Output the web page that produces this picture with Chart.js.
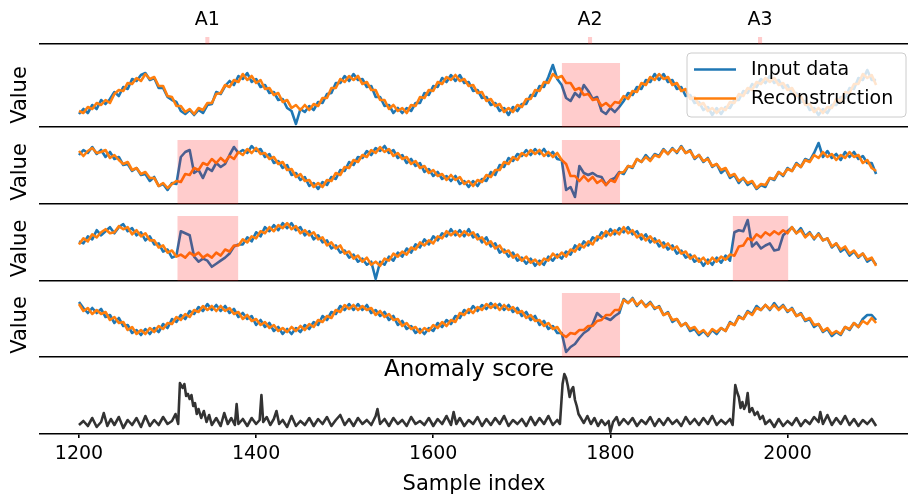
<!DOCTYPE html>
<html>
<head>
<meta charset="utf-8">
<script src="https://cdn.jsdelivr.net/npm/chart.js@4.4.0/dist/chart.umd.min.js"></script>
<style>
  html, body { margin: 0; padding: 0; background: #fff; }
  #wrap { position: relative; width: 908px; height: 497px; overflow: hidden; }
  canvas { position: absolute; left: 0; }
</style>
</head>
<body>
<div id="wrap">
  <canvas id="marks" width="908" height="46" style="top:0px"></canvas>
  <canvas id="p1" width="908" height="84" style="top:45px"></canvas>
  <canvas id="p2" width="908" height="77" style="top:129px"></canvas>
  <canvas id="p3" width="908" height="77" style="top:206px"></canvas>
  <canvas id="p4" width="908" height="76" style="top:283px"></canvas>
  <canvas id="p5" width="908" height="138" style="top:359px"></canvas>
</div>
<script>
// sample index shared by the four signal panels
const sampleIndex = [
  1200,1205,1210,1215,1220,1225,1230,1235,1240,1245,1250,1255,1260,1265,1270,1275,1280,1285,1290,1295,
  1300,1305,1310,1315,1320,1325,1330,1335,1340,1345,1350,1355,1360,1365,1370,1375,1380,1385,1390,1395,
  1400,1405,1410,1415,1420,1425,1430,1435,1440,1445,1450,1455,1460,1465,1470,1475,1480,1485,1490,1495,
  1500,1505,1510,1515,1520,1525,1530,1535,1540,1545,1550,1555,1560,1565,1570,1575,1580,1585,1590,1595,
  1600,1605,1610,1615,1620,1625,1630,1635,1640,1645,1650,1655,1660,1665,1670,1675,1680,1685,1690,1695,
  1700,1705,1710,1715,1720,1725,1730,1735,1740,1745,1750,1755,1760,1765,1770,1775,1780,1785,1790,1795,
  1800,1805,1810,1815,1820,1825,1830,1835,1840,1845,1850,1855,1860,1865,1870,1875,1880,1885,1890,1895,
  1900,1905,1910,1915,1920,1925,1930,1935,1940,1945,1950,1955,1960,1965,1970,1975,1980,1985,1990,1995,
  2000,2005,2010,2015,2020,2025,2030,2035,2040,2045,2050,2055,2060,2065,2070,2075,2080,2085,2090,2095,
  2100
];

// panel 1
const input1 = [
  -19,-14,-18,-10,-14,-5,-9,-4,3,-1,8,6,16,14,20,22,15,17,7,7,
  -2,-5,-7,-16,-19,-15,-20,-15,-18,-10,-9,3,1,9,14,10,19,16,22,13,
  16,8,10,2,3,-5,-4,-13,-16,-29,-14,-17,-11,-15,-7,-8,1,2,12,12,
  19,14,21,15,16,8,9,-2,-2,-11,-10,-18,-13,-18,-13,-16,-8,-8,2,0,
  9,8,17,13,20,14,20,12,13,4,5,-3,-2,-10,-8,-16,-13,-20,-12,-16,
  -9,-9,0,-1,9,8,18,30,16,10,-3,-6,2,-2,10,4,-4,-2,-16,-19,
  -13,-17,-12,-6,2,0,8,6,15,13,21,15,21,13,15,6,8,-1,0,-8,
  -7,-15,-12,-20,-13,-19,-12,-13,-5,-5,4,2,11,8,16,12,19,12,15,7,
  10,1,2,-7,-6,-15,-13,-20,-14,-18,-10,-10,-2,-3,7,6,17,15,25,15,
  15
];
const recon1 = [
  -16,-18,-12,-14,-8,-10,-5,-8,1,5,4,12,11,17,14,21,16,18,9,9,
  -1,-2,-11,-11,-17,-14,-19,-13,-15,-8,-8,1,2,10,8,15,13,21,15,19,
  12,15,6,7,0,2,-7,-5,-13,-10,-15,-10,-15,-9,-11,-3,-3,7,7,16,
  13,19,15,19,11,13,5,5,-5,-5,-14,-10,-16,-13,-18,-10,-11,-2,-3,5,
  4,13,11,18,15,20,14,16,9,10,2,3,-6,-4,-11,-9,-17,-13,-17,-10,
  -12,-4,-4,5,4,13,12,21,17,19,12,12,5,7,0,1,-5,-4,-11,-8,
  -12,-7,-8,-1,-4,4,3,12,10,18,15,21,16,18,10,12,4,6,-4,-2,
  -10,-8,-16,-13,-18,-13,-15,-7,-8,1,-1,7,5,13,11,17,13,17,10,12,
  5,7,-1,-1,-10,-9,-17,-13,-18,-12,-13,-4,-6,3,2,11,11,21,17,20,
  10
];

// panel 2
const input2 = [
  17,22,19,25,18,22,15,20,13,15,7,8,1,4,-3,-2,-9,-5,-14,-12,
  -18,-11,-12,15,20,22,-1,2,-6,4,1,9,5,8,17,25,19,22,19,26,
  21,23,15,18,9,11,4,7,-3,-1,-8,-5,-14,-11,-17,-10,-13,-5,-7,2,
  1,10,7,15,14,21,17,24,21,26,19,22,14,17,9,13,6,9,0,3,
  -4,0,-7,-4,-9,-4,-12,-9,-15,-9,-14,-7,-9,0,-3,7,5,14,11,18,
  16,22,17,23,18,23,16,20,13,12,-18,-15,-25,6,-1,-3,-1,-4,-5,-13,
  -8,-6,0,-2,6,4,13,10,17,12,18,16,23,18,24,19,26,19,22,13,
  17,10,14,5,8,-1,3,-6,-3,-11,-6,-13,-10,-17,-13,-15,-6,-8,0,-4,
  4,1,9,5,13,11,19,29,15,21,14,18,12,20,15,20,13,16,9,9,
  -2
];
const recon2 = [
  21,16,21,24,19,20,22,14,17,12,8,10,2,4,-2,0,-6,-6,-14,-11,
  -16,-12,-9,-10,-2,-3,4,2,9,7,13,9,14,10,16,13,20,17,23,19,
  24,18,19,13,15,8,10,2,3,-5,-2,-9,-8,-15,-11,-15,-8,-9,-1,-3,
  5,4,12,10,17,15,22,19,25,20,23,16,19,13,15,8,11,4,6,-1,
  2,-4,-2,-8,-3,-8,-5,-12,-9,-14,-8,-10,-3,-5,2,2,10,8,15,12,
  19,16,22,18,22,16,20,15,19,12,8,-4,-4,-9,-4,-9,-5,-11,-8,-13,
  -8,-10,-1,0,6,5,13,10,15,11,17,15,22,18,23,20,25,19,21,14,
  17,11,13,6,8,2,4,-4,-2,-9,-6,-11,-9,-16,-12,-13,-6,-7,0,-3,
  3,1,8,5,12,10,17,14,20,15,18,12,17,14,20,15,17,9,12,4,
  1
];

// panel 3
const input3 = [
  7,5,12,9,18,13,17,21,15,21,24,17,20,13,16,8,12,4,5,-3,
  -1,-9,-7,17,15,13,-8,-13,-10,-12,-18,-15,-12,-9,-5,2,4,4,11,7,
  16,12,21,17,23,18,25,20,25,18,21,13,17,9,13,6,8,0,3,-4,
  -2,-9,-6,-13,-10,-16,-13,-30,-13,-16,-8,-12,-4,-8,0,-4,4,1,9,4,
  12,8,15,12,19,13,18,12,19,11,14,6,11,2,5,-4,-1,-8,-4,-12,
  -9,-15,-10,-17,-12,-16,-8,-12,-6,-10,-3,-6,3,-1,7,3,11,8,16,12,
  19,14,20,16,21,14,17,9,14,6,10,2,6,-1,3,-5,-2,-9,-6,-13,
  -10,-17,-11,-16,-9,-14,-7,-12,16,18,17,28,2,6,0,3,5,-2,-1,13,
  17,21,15,20,12,16,9,15,8,10,1,5,-3,0,-7,-3,-9,-5,-13,-10,
  -16
];
const recon3 = [
  4,10,7,14,11,16,19,15,16,22,19,21,14,18,12,15,8,8,1,3,
  -4,-2,-8,-6,-9,-4,-7,-4,-9,-6,-9,-4,-7,-1,-3,3,3,9,6,12,
  10,17,15,21,17,23,20,25,19,22,15,18,13,16,9,11,3,6,0,3,
  -5,-3,-10,-7,-13,-9,-16,-13,-17,-10,-12,-5,-8,-3,-6,1,-1,6,3,8,
  5,12,10,17,13,17,12,17,13,16,9,11,4,7,0,3,-4,-2,-9,-6,
  -12,-8,-14,-11,-16,-10,-12,-5,-9,-4,-8,-1,-3,4,1,7,4,12,10,17,
  13,18,14,21,15,18,11,14,8,12,6,8,1,5,-1,2,-5,-3,-10,-7,
  -13,-9,-15,-9,-13,-8,-11,-6,-7,2,3,10,8,14,11,16,13,17,14,18,
  15,21,15,18,11,15,10,14,8,10,2,5,-1,2,-5,-2,-8,-5,-11,-9,
  -17
];

// panel 4
const input4 = [
  23,17,12,17,12,16,8,10,2,7,-1,0,-8,-5,-10,-4,-9,-3,-7,1,
  -3,6,3,10,6,14,11,18,14,21,15,20,14,19,12,16,8,12,6,9,
  0,5,-2,2,-6,-2,-9,-4,-9,-3,-7,0,-4,3,0,9,5,13,11,19,
  15,21,15,21,15,20,12,15,9,13,5,9,0,4,-4,-1,-8,-4,-9,-3,
  -6,2,-2,5,1,9,7,15,12,19,14,20,16,22,17,21,15,20,13,17,
  9,13,5,9,0,4,-4,-1,-8,-8,-27,-22,-19,-13,-8,-5,1,12,8,7,
  5,9,12,26,22,27,19,24,19,23,16,19,10,13,3,6,-1,2,-6,-4,
  -10,-6,-11,-5,-9,-3,-6,3,0,9,6,14,11,19,15,20,15,22,16,20,
  13,17,9,12,4,6,-2,1,-7,-4,-11,-7,-10,-2,-5,2,-2,6,10,10,
  5
];
const recon4 = [
  21,14,17,11,15,11,13,5,8,2,3,-5,-2,-9,-5,-9,-3,-7,-1,-4,
  2,1,8,5,11,8,15,13,19,15,19,14,19,14,17,11,13,6,10,4,
  6,0,3,-3,0,-6,-3,-7,-2,-6,-1,-5,1,-2,5,3,9,7,15,13,
  20,16,20,15,19,15,17,10,14,8,11,5,6,-1,2,-4,-2,-8,-3,-6,
  0,-3,3,-1,5,3,12,10,16,12,18,15,21,17,21,15,20,15,18,12,
  14,7,10,4,5,-1,2,-4,-2,-9,-12,-8,-9,-5,-5,-1,-1,4,5,10,
  10,15,15,25,22,26,20,24,18,22,17,18,10,12,5,6,-1,2,-4,-2,
  -8,-5,-10,-4,-7,-3,-6,2,0,8,6,13,10,17,15,20,16,20,15,19,
  14,16,9,11,5,7,0,1,-6,-3,-9,-6,-9,-2,-4,2,-2,4,1,7,
  2
];

// anomaly score (irregular sampling around the peaks)
const scoreIndex = [
  1200,1205,1210,1215,1220,1225,1228,1232,1236,1240,1245,1250,1255,1260,1265,1270,1275,1280,1285,1290,
  1295,1300,1305,1309,1312,1314,1317,1319,1321,1323,1325,1327,1329,1331,1333,1335,1338,1341,1344,1347,
  1350,1355,1360,1364,1368,1372,1376,1378,1380,1385,1390,1395,1400,1404,1406,1408,1412,1416,1420,1423,
  1426,1430,1435,1440,1445,1450,1455,1460,1465,1470,1475,1480,1485,1490,1495,1500,1505,1510,1515,1520,
  1525,1530,1535,1537,1540,1545,1550,1555,1560,1565,1570,1575,1580,1585,1590,1595,1600,1605,1610,1615,
  1620,1623,1626,1630,1635,1640,1645,1650,1655,1660,1665,1670,1675,1680,1685,1690,1695,1700,1705,1710,
  1715,1720,1725,1730,1735,1740,1743,1746,1748,1750,1752,1754,1756,1758,1760,1762,1764,1766,1770,1774,
  1778,1782,1786,1790,1794,1798,1800,1803,1807,1810,1815,1820,1825,1830,1835,1840,1845,1850,1855,1860,
  1865,1870,1875,1880,1885,1890,1895,1900,1905,1910,1915,1920,1925,1930,1935,1938,1941,1943,1945,1947,
  1949,1951,1953,1955,1957,1960,1963,1966,1969,1972,1975,1980,1985,1990,1995,2000,2005,2010,2015,2020,
  2025,2030,2035,2037,2040,2045,2050,2055,2060,2065,2070,2075,2080,2085,2090,2095,2100
];
const scoreValues = [
  0.9,1.3,0.8,1.6,0.7,1.2,2.1,0.8,1.5,0.9,1.7,0.6,1.4,0.9,1.6,0.7,1.8,0.8,1.4,0.9,
  1.7,1.0,1.3,2.0,1.0,5.1,4.6,5.0,3.8,4.0,3.5,3.9,2.8,3.1,2.0,2.5,1.6,2.3,1.2,1.9,
  0.9,1.6,0.8,2.1,1.0,1.6,0.9,3.0,1.0,1.5,0.8,1.6,1.0,1.4,3.9,1.2,1.7,0.9,1.5,2.3,
  1.0,1.4,0.7,1.8,0.8,1.3,0.9,1.6,0.8,1.5,1.0,1.7,0.8,1.4,1.9,0.9,1.5,0.8,1.6,1.0,
  1.4,0.9,1.8,2.5,1.0,1.5,0.8,1.6,1.0,1.4,0.8,1.7,1.0,1.3,0.9,1.6,0.8,1.5,1.0,1.8,
  0.9,2.2,1.0,1.6,0.8,1.4,1.0,1.7,0.8,1.5,0.9,1.6,1.0,1.8,0.8,1.4,1.0,1.5,0.8,1.7,
  0.9,1.6,1.0,1.8,0.9,1.4,1.0,5.0,6.0,5.6,4.8,3.7,4.4,4.7,3.4,2.8,2.0,1.7,1.1,1.8,
  1.0,1.6,0.8,1.4,0.9,1.3,0.2,1.2,1.7,0.9,1.5,1.0,1.6,0.8,1.4,1.0,1.7,0.8,1.5,0.9,
  1.6,1.0,1.4,0.8,1.7,1.0,1.5,0.9,1.6,1.0,1.8,0.9,1.4,1.0,1.5,0.9,4.9,4.2,3.7,2.6,
  3.2,2.5,2.9,4.1,2.2,2.6,1.9,2.2,1.5,1.8,1.0,1.4,0.7,1.5,0.8,1.3,0.9,1.6,0.8,1.4,
  1.0,1.7,1.2,2.2,1.0,1.9,0.9,1.6,1.0,1.8,0.9,1.5,0.8,1.4,1.0,1.5,0.8
];

// labelled anomaly windows
const anomalyNames = ['A1', 'A2', 'A3'];
const anomalyStart = [1311, 1745, 1938];
const anomalyEnd = [1380, 1811, 2001];
const anomalyCentre = [1345, 1777, 1969];
const panelAnomalies = [[1], [0, 1], [0, 2], [1]];

const xTicks = [1200, 1400, 1600, 1800, 2000];

// ---- style ----
const FONT = "'DejaVu Sans', sans-serif";
const BLUE = '#1f77b4';
const ORANGE = '#ff7f0e';
const SCORE = '#333333';
const SPAN = 'rgba(255, 0, 0, 0.2)';
const X_MIN = 1156, X_MAX = 2136;
const Y_LIM = 32;
const MARK_HALF = 2.5;
const SPINE = 1.6;

Chart.defaults.font.family = FONT;
Chart.defaults.color = '#000';

function xy(xs, ys) {
  return xs.map((x, i) => ({ x: x, y: ys[i] }));
}

function spanSet(a, b, top) {
  return {
    data: [{ x: a, y: top }, { x: b, y: top }],
    fill: 'start', backgroundColor: SPAN,
    borderWidth: 0, pointRadius: 0
  };
}

function lineSet(label, xs, ys, color) {
  return {
    label: label, data: xy(xs, ys),
    borderColor: color, borderWidth: 2.6,
    pointRadius: 0, borderJoinStyle: 'round', fill: false
  };
}

const bareX = {
  type: 'linear', min: X_MIN, max: X_MAX,
  ticks: { display: false },
  grid: { display: false, drawTicks: false },
  border: { color: '#000', width: SPINE }
};

// legend drawn inside the first panel with a translucent box
const legendBox = {
  id: 'legendBox',
  afterDatasetsDraw(chart) {
    const ctx = chart.ctx;
    const items = ['Input data', 'Reconstruction'].map(name =>
      chart.data.datasets.find(d => d.label === name));
    const x0 = 687, y0 = 8, w = 219, h = 64, r = 4;
    ctx.save();
    ctx.beginPath();
    ctx.moveTo(x0 + r, y0);
    ctx.arcTo(x0 + w, y0, x0 + w, y0 + h, r);
    ctx.arcTo(x0 + w, y0 + h, x0, y0 + h, r);
    ctx.arcTo(x0, y0 + h, x0, y0, r);
    ctx.arcTo(x0, y0, x0 + w, y0, r);
    ctx.closePath();
    ctx.fillStyle = 'rgba(255,255,255,0.8)';
    ctx.fill();
    ctx.strokeStyle = '#cccccc';
    ctx.lineWidth = 1;
    ctx.stroke();
    ctx.font = '19px ' + FONT;
    ctx.textBaseline = 'middle';
    ctx.fillStyle = '#000';
    items.forEach((d, i) => {
      const y = 24.5 + i * 29;
      ctx.beginPath();
      ctx.moveTo(694, y);
      ctx.lineTo(736, y);
      ctx.strokeStyle = d.borderColor;
      ctx.lineWidth = 2.6;
      ctx.stroke();
      ctx.fillText(d.label, 751, y + 1);
    });
    ctx.restore();
  }
};

// top strip with the anomaly labels
new Chart(document.getElementById('marks'), {
  type: 'line',
  data: {
    datasets: anomalyCentre.map(c => spanSet(c - MARK_HALF, c + MARK_HALF, 1))
  },
  options: {
    responsive: false, animation: false,
    layout: { padding: { top: 8.6, bottom: 2, left: 40, right: 0 } },
    plugins: { legend: { display: false }, tooltip: { enabled: false } },
    scales: {
      x: bareX,
      xTop: {
        type: 'linear', position: 'top', min: X_MIN, max: X_MAX,
        grid: { display: false, drawTicks: false },
        border: { display: false },
        afterBuildTicks: s => { s.ticks = anomalyCentre.map(v => ({ value: v })); },
        afterFit: s => { s.height = 28.4; },
        ticks: {
          font: { size: 19 }, color: '#000', padding: 5.6,
          maxRotation: 0, autoSkip: false,
          callback: (v, i) => anomalyNames[i]
        }
      },
      y: { display: false, min: 0, max: 1 }
    }
  }
});

const panels = [
  { id: 'p1', input: input1, recon: recon1, pad: [18, 2], legend: true },
  { id: 'p2', input: input2, recon: recon2, pad: [11, 2], legend: false },
  { id: 'p3', input: input3, recon: recon3, pad: [10, 2], legend: false },
  { id: 'p4', input: input4, recon: recon4, pad: [10, 2], legend: false }
];

panels.forEach((p, k) => {
  const spans = panelAnomalies[k].map(a => spanSet(anomalyStart[a], anomalyEnd[a], Y_LIM));
  new Chart(document.getElementById(p.id), {
    type: 'line',
    data: {
      datasets: spans.concat([
        lineSet('Reconstruction', sampleIndex, p.recon, ORANGE),
        lineSet('Input data', sampleIndex, p.input, BLUE)
      ])
    },
    options: {
      responsive: false, animation: false,
      layout: { padding: { top: p.pad[0], bottom: p.pad[1], left: 0, right: 0 } },
      plugins: { legend: { display: false }, tooltip: { enabled: false } },
      scales: {
        x: bareX,
        y: {
          min: -Y_LIM, max: Y_LIM,
          ticks: { display: false },
          grid: { display: false, drawTicks: false },
          border: { display: false },
          title: {
            display: true, text: 'Value', color: '#000',
            font: { size: 21 }, padding: { top: 8, bottom: 0 }
          },
          afterFit: s => { s.width = 40; }
        }
      }
    },
    plugins: p.legend ? [legendBox] : []
  });
});

// anomaly score panel
new Chart(document.getElementById('p5'), {
  type: 'line',
  data: {
    datasets: [lineSet('Anomaly score', scoreIndex, scoreValues, SCORE)]
  },
  options: {
    responsive: false, animation: false,
    layout: { padding: { top: 0, bottom: 0, left: 30, right: 0 } },
    plugins: {
      legend: { display: false },
      tooltip: { enabled: false },
      title: {
        display: true, text: 'Anomaly score', color: '#000', fullSize: true,
        font: { size: 23, weight: 'normal', lineHeight: 1 },
        padding: { top: 0, bottom: -12 }
      }
    },
    scales: {
      x: {
        type: 'linear', min: X_MIN, max: X_MAX,
        afterBuildTicks: s => { s.ticks = xTicks.map(v => ({ value: v })); },
        afterFit: s => { s.height = 63; },
        ticks: {
          font: { size: 19 }, color: '#000', padding: 5, maxRotation: 0, autoSkip: false,
          callback: v => String(v)
        },
        grid: { display: true, drawOnChartArea: false, drawTicks: true, tickLength: 4, color: '#000', lineWidth: SPINE },
        border: { color: '#000', width: SPINE },
        title: {
          display: true, text: 'Sample index', color: '#000',
          font: { size: 21 }, padding: { top: 6, bottom: 0 }
        }
      },
      y: {
        min: 0, max: 6.4,
        ticks: { display: false },
        grid: { display: false, drawTicks: false },
        border: { display: false },
        afterFit: s => { s.width = 10; }
      }
    }
  }
});
</script>
</body>
</html>
